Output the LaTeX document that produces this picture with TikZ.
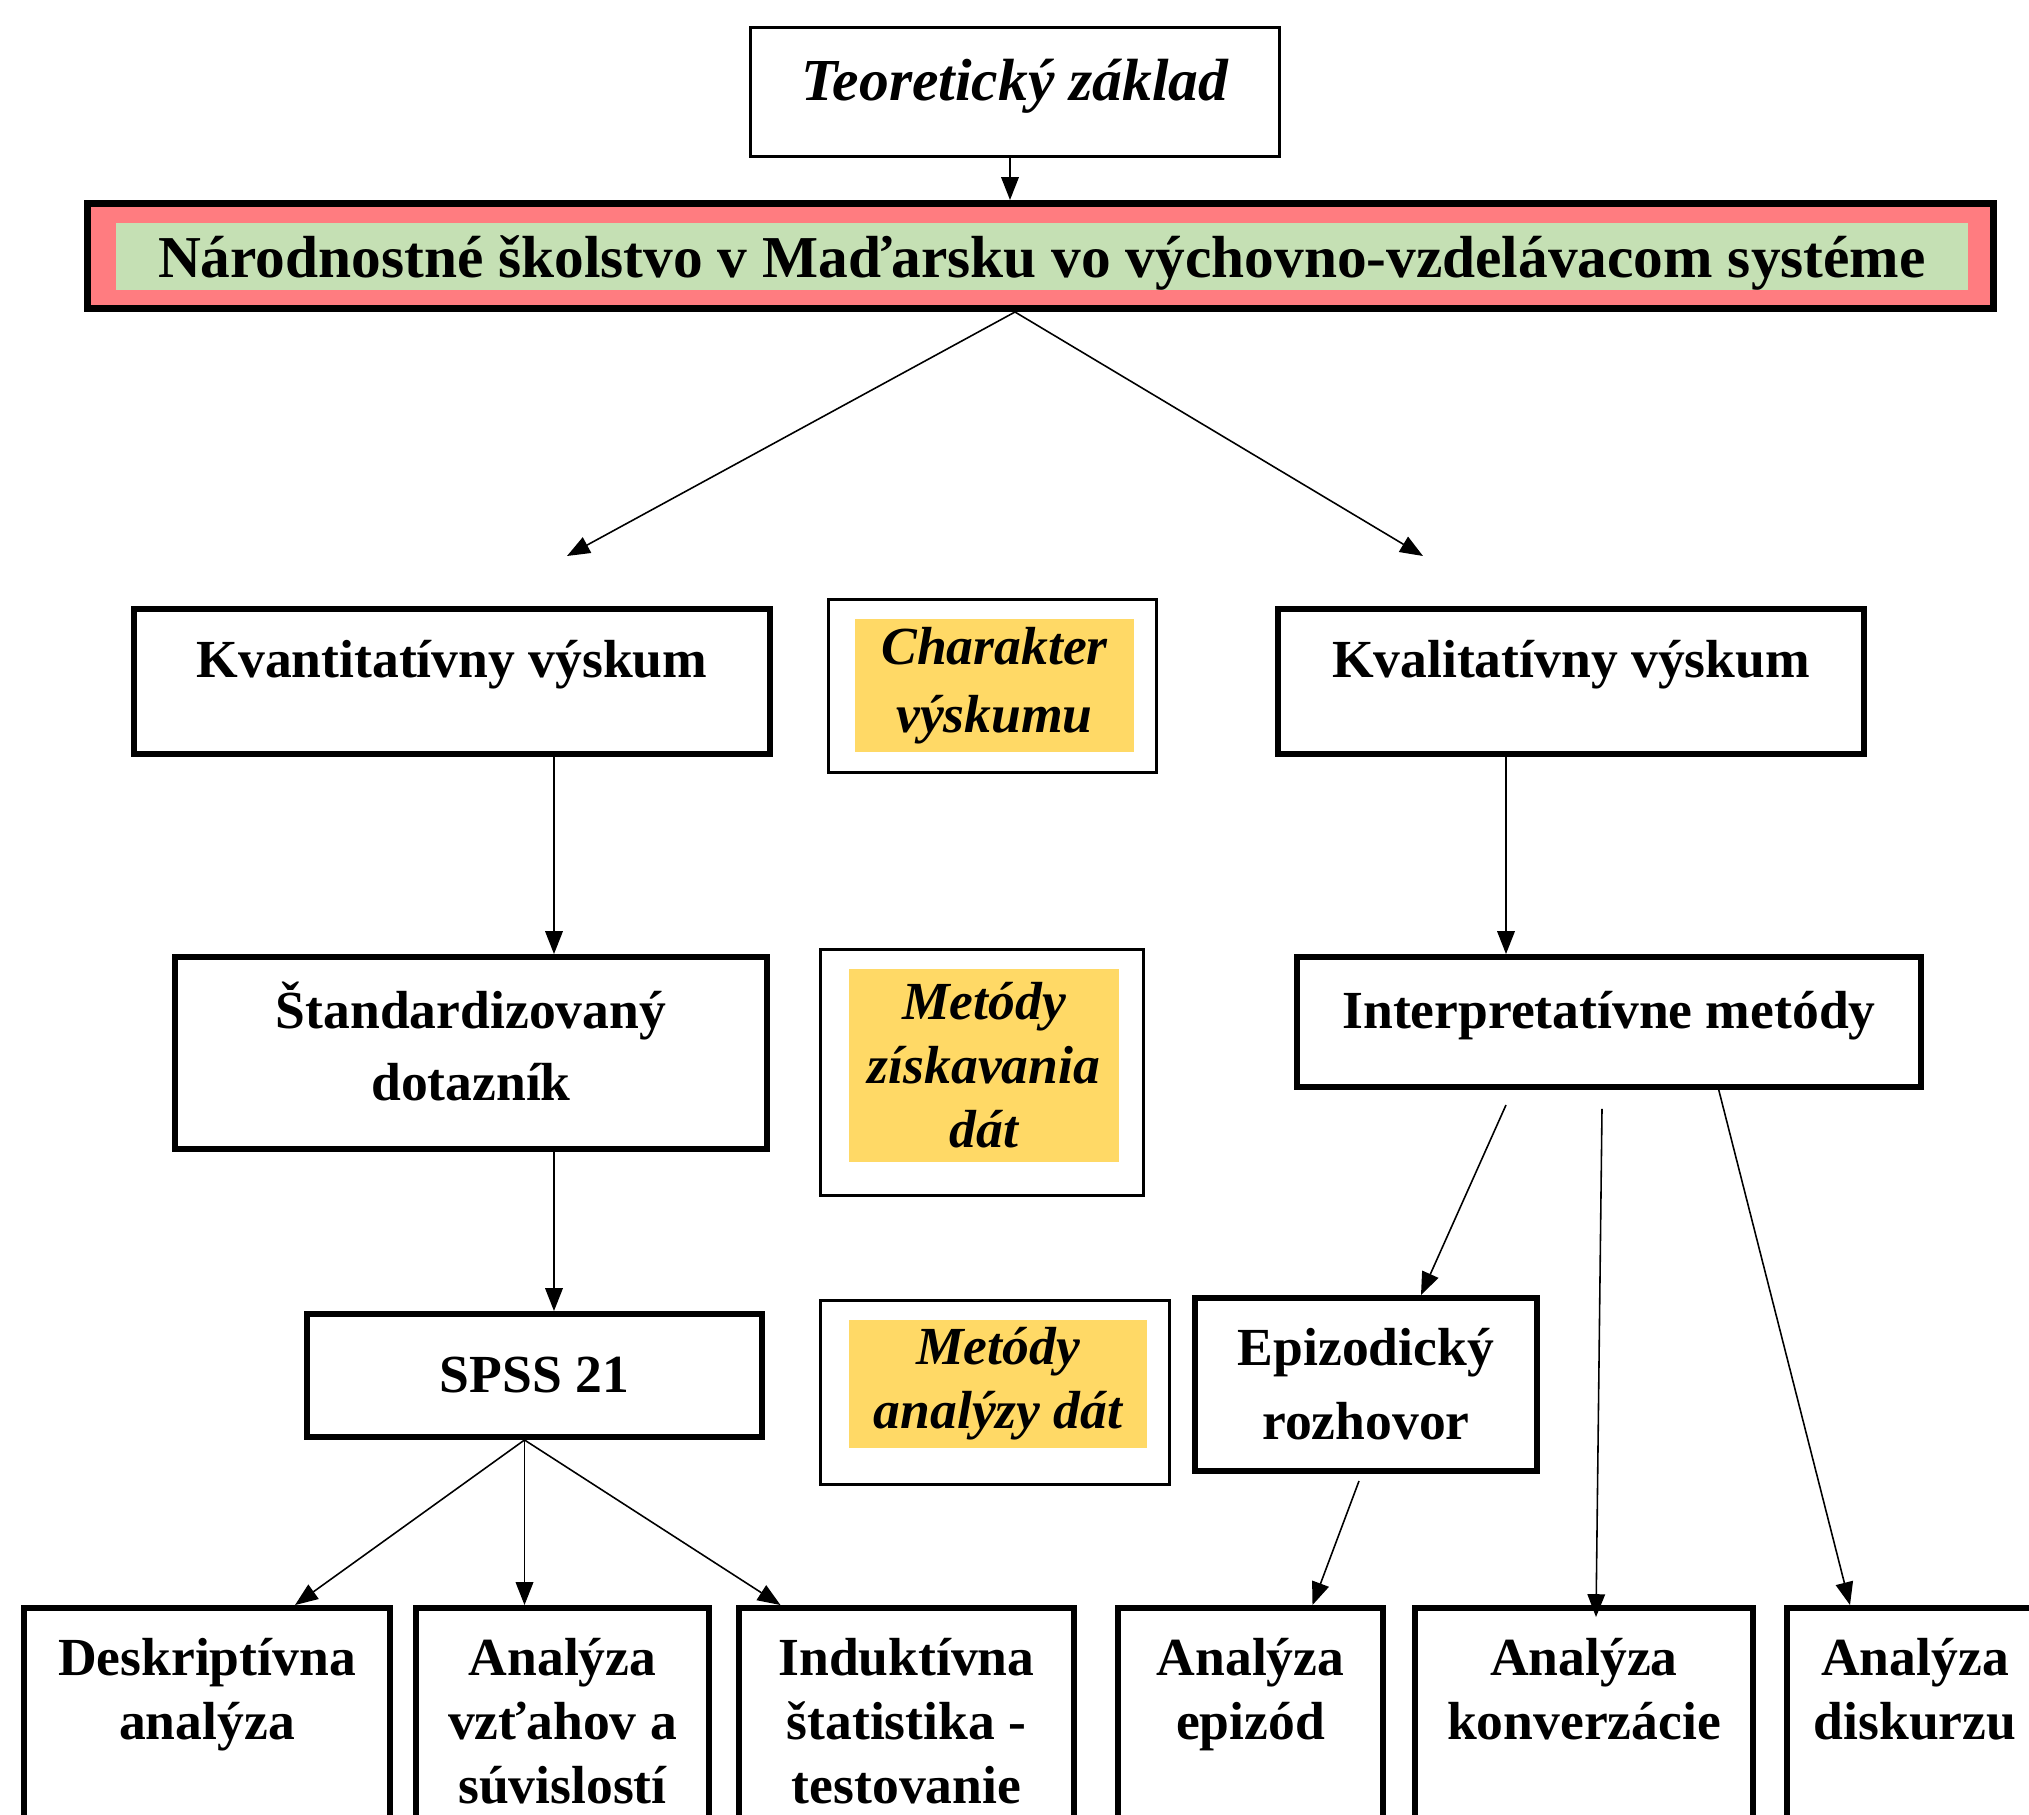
\documentclass[tikz,border=0pt]{standalone}
\usepackage{fontspec}
\setmainfont{Liberation Serif}
\usetikzlibrary{arrows.meta,calc}
\definecolor{titlered}{HTML}{FF7C80}
\definecolor{titlegreen}{HTML}{C5E0B4}
\definecolor{tagyellow}{HTML}{FFD966}
\tikzset{
  box/.style={draw, line width=3.4pt, fill=white, align=center, inner sep=0pt,
    font=\fontsize{30.5}{36.4}\selectfont\bfseries},
  frame/.style={draw, line width=1.6pt, fill=white, inner sep=0pt},
  tag/.style={fill=tagyellow, align=center, inner sep=0pt,
    font=\fontsize{30.5}{36.4}\selectfont\bfseries\itshape},
  arr/.style={-{Triangle[length=13pt,width=10pt]}, line width=0.9pt},
}
\begin{document}
\begin{tikzpicture}[x=0.02cm,y=-0.02cm]
  \path[use as bounding box, fill=white] (0,0) rectangle (2029,1815);

  \node[box, line width=1.6pt, font=\fontsize{33.9}{40}\selectfont\bfseries\itshape,
    minimum width=10.58cm, text height=1.47cm, text depth=1.11cm] (teor) at (1015,92) {Teoretický základ};
  \node[draw, line width=4pt, fill=titlered, minimum width=38.12cm, minimum height=2.1cm] (main) at (1040.5,256) {};
  \node[fill=titlegreen, inner sep=0pt, minimum width=37.04cm, text height=1.1cm, text depth=0.24cm,
    font=\fontsize{33.8}{40}\selectfont\bfseries] (mainIn) at (1042,256.5)
    {Národnostné školstvo v Maďarsku vo výchovno-vzdelávacom systéme};

  \node[box, minimum width=12.72cm, text height=1.36cm, text depth=1.54cm] (kvant) at (452,681.5) {Kvantitatívny výskum};
  \node[box, minimum width=11.72cm, text height=1.36cm, text depth=1.54cm] (kval) at (1571,681.5) {Kvalitatívny výskum};
  \node[frame, minimum width=6.56cm, minimum height=3.46cm] (char) at (992.5,686) {};
  \node[tag, minimum width=5.58cm, minimum height=2.66cm, font=\fontsize{30.5}{39}\selectfont\bfseries\itshape] (charIn) at (994.5,685.5) {Charakter\\výskumu};

  \node[box, minimum width=11.84cm, minimum height=3.84cm, font=\fontsize{30.5}{41}\selectfont\bfseries] (stand) at (471,1053)
    {\raisebox{0.06cm}[\height][\depth]{\begin{tabular}{@{}c@{}}Štandardizovaný\\dotazník\end{tabular}}};
  \node[frame, minimum width=6.46cm, minimum height=4.92cm] (ziskF) at (982,1072.5) {};
  \node[tag, minimum width=5.4cm, minimum height=3.86cm] (ziskIn) at (984,1065.5) {Metódy\\získavania\\dát};
  \node[box, minimum width=12.48cm, text height=1.42cm, text depth=1.18cm] (interp) at (1609,1022) {Interpretatívne metódy};

  \node[box, minimum width=9.1cm, minimum height=2.46cm] (spss) at (534.5,1375.5) {SPSS 21};
  \node[frame, minimum width=6.98cm, minimum height=3.68cm] (analF) at (995,1392.5) {};
  \node[tag, minimum width=5.96cm, minimum height=2.56cm] (analIn) at (998,1384) {Metódy\\analýzy dát};
  \node[box, minimum width=6.84cm, minimum height=3.46cm, font=\fontsize{30.5}{42}\selectfont\bfseries] (epiz) at (1366,1384.5) {Epizodický\\rozhovor};

  \foreach \n/\x/\w/\t in {desk/207/7.32/{Deskriptívna\\analýza\\~},
      vztah/562.5/5.86/{Analýza\\vzťahov a\\súvislostí},
      indukt/906.5/6.7/{Induktívna\\štatistika -\\testovanie},
      epizA/1250.5/5.3/{Analýza\\epizód\\~},
      konv/1584/6.76/{Analýza\\konverzácie\\~},
      disk/1915/5.12/{Analýza\\diskurzu\\~}}
    \node[box, minimum width=\w cm, minimum height=4.52cm] (\n) at (\x,1721) {\t};

  \coordinate (kvantTip) at (567,556);
  \coordinate (kvalTip) at (1423,556);
  \coordinate (teorLine) at (1010,0);
  \coordinate (kvantLine) at (554,0);
  \coordinate (kvalLine) at (1506,0);
  \coordinate (spssOut) at ($(spss.south)+(-10,0)$);

  \draw[arr] (teor.south -| teorLine) -- (main.north -| teorLine);
  \draw[arr] (main.south -| teor.south) -- (kvantTip);
  \draw[arr] (main.south -| teor.south) -- (kvalTip);
  \draw[arr] (kvant.south -| kvantLine) -- (stand.north -| kvantLine);
  \draw[arr] (stand.south -| kvantLine) -- (spss.north -| kvantLine);
  \draw[arr] (kval.south -| kvalLine) -- (interp.north -| kvalLine);

  \draw[arr] (spssOut) -- ($(desk.north)+(88,0)$);
  \draw[arr] (spssOut) -- ($(vztah.north)+(-38,0)$);
  \draw[arr] (spssOut) -- ($(indukt.north)+(-126,0)$);

  \draw[arr] ($(interp.south)+(-103,15)$) -- ($(epiz.north)+(55,0)$);
  \draw[arr] ($(interp.south)+(-7,19)$) -- ($(konv.north)+(12,12)$);
  \draw[arr] ($(interp.south)+(109,-3)$) -- ($(disk.north)+(-65,0)$);
  \draw[arr] ($(epiz.south)+(-7,7)$) -- ($(epizA.north)+(62,0)$);
\end{tikzpicture}
\end{document}
